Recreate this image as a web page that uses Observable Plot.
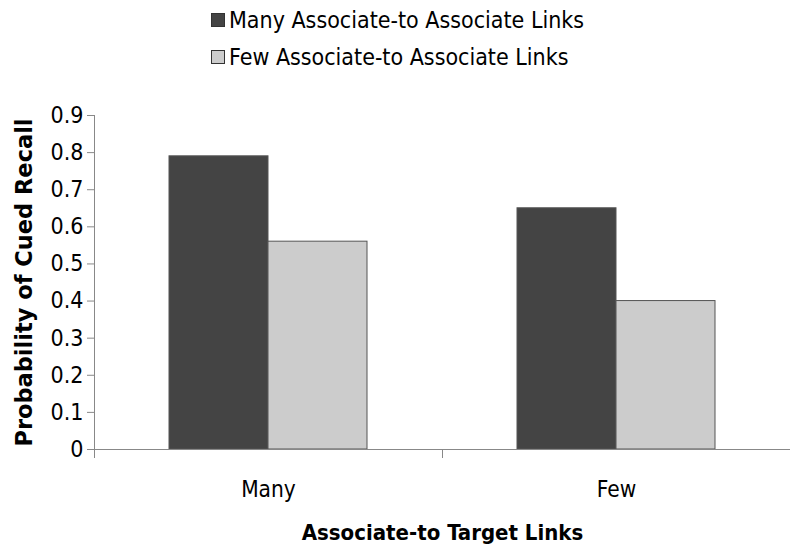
<!DOCTYPE html>
<html>
<head>
<meta charset="utf-8">
<script src="https://cdn.jsdelivr.net/npm/d3@7"></script>
<script src="https://cdn.jsdelivr.net/npm/@observablehq/plot@0.6"></script>
<style>
  html, body { margin: 0; padding: 0; background: #fff; }
  body { width: 790px; height: 546px; overflow: hidden; font-family: "DejaVu Sans Condensed", "DejaVu Sans", sans-serif; }
  #legend { height: 80px; box-sizing: border-box; padding-top: 1px; padding-left: 211px; }
  .row { display: flex; align-items: center; height: 37px; font-size: 23px; color: #000; }
  .sw { width: 12px; height: 12px; margin-right: 4px; border: 1px solid #333; flex: none; }
  svg [aria-label="fx-axis label"] { font-weight: bold; font-size: 22px; }
  svg [aria-label="y-axis label"] { font-weight: bold; font-family: "DejaVu Sans"; font-size: 22.5px; }
  svg [aria-label="fx-axis tick label"] { font-size: 22.5px; }
</style>
</head>
<body>
<div id="legend"></div>
<div id="chart"></div>
<script>
const categories = ["Many", "Few"];
const series = ["Many Associate-to Associate Links", "Few Associate-to Associate Links"];
const manyLinkValues = [0.79, 0.65];
const fewLinkValues = [0.56, 0.40];
const yTicks = [0, 0.1, 0.2, 0.3, 0.4, 0.5, 0.6, 0.7, 0.8, 0.9];
const colors = ["#444444", "#cccccc"];
const xTitle = "Associate-to Target Links";
const yTitle = "Probability of Cued Recall";

const data = categories.flatMap((c, i) => [
  {cat: c, series: series[0], value: manyLinkValues[i]},
  {cat: c, series: series[1], value: fewLinkValues[i]}
]);

const legend = document.getElementById("legend");
series.forEach((s, i) => {
  const row = document.createElement("div");
  row.className = "row";
  const sw = document.createElement("span");
  sw.className = "sw";
  sw.style.background = colors[i];
  row.appendChild(sw);
  const t = document.createElement("span");
  t.textContent = s;
  row.appendChild(t);
  legend.appendChild(row);
});

const H = 466, mt = 35, mb = 97;
const chart = Plot.plot({
  width: 790,
  height: H,
  marginLeft: 93,
  marginRight: 0,
  marginTop: mt,
  marginBottom: mb,
  style: {fontFamily: "DejaVu Sans Condensed", fontSize: "23px", color: "#000", background: "#fff"},
  fx: {domain: categories, padding: 0},
  x: {domain: series, paddingInner: 0, paddingOuter: 0.75, axis: null},
  y: {domain: [0, 0.9]},
  color: {domain: series, range: colors},
  marks: [
    Plot.barY(data, {fx: "cat", x: "series", y: "value", fill: "series", stroke: "#555", strokeWidth: 1}),
    Plot.ruleY([0], {stroke: "#888"}),
    Plot.frame({anchor: "left", stroke: "#888", facetAnchor: "left"}),
    Plot.frame({anchor: "left", stroke: "#888", insetTop: H - mt - mb, insetBottom: -8}),
    Plot.axisY({ticks: yTicks, tickSize: 7, tickPadding: 4, stroke: "#888",
      tickFormat: d => d3.format("")(d), label: yTitle, labelArrow: "none", labelAnchor: "center", labelOffset: 78}),
    Plot.axisFx({anchor: "bottom", tickSize: 0, tickPadding: 32, label: xTitle, labelArrow: "none", labelAnchor: "center", labelOffset: 85})
  ]
});
const lab = chart.querySelector('[aria-label="fx-axis label"]');
if (lab) lab.setAttribute("transform", ((lab.getAttribute("transform") || "") + " translate(0,5)").trim());
document.getElementById("chart").appendChild(chart);
</script>
</body>
</html>
